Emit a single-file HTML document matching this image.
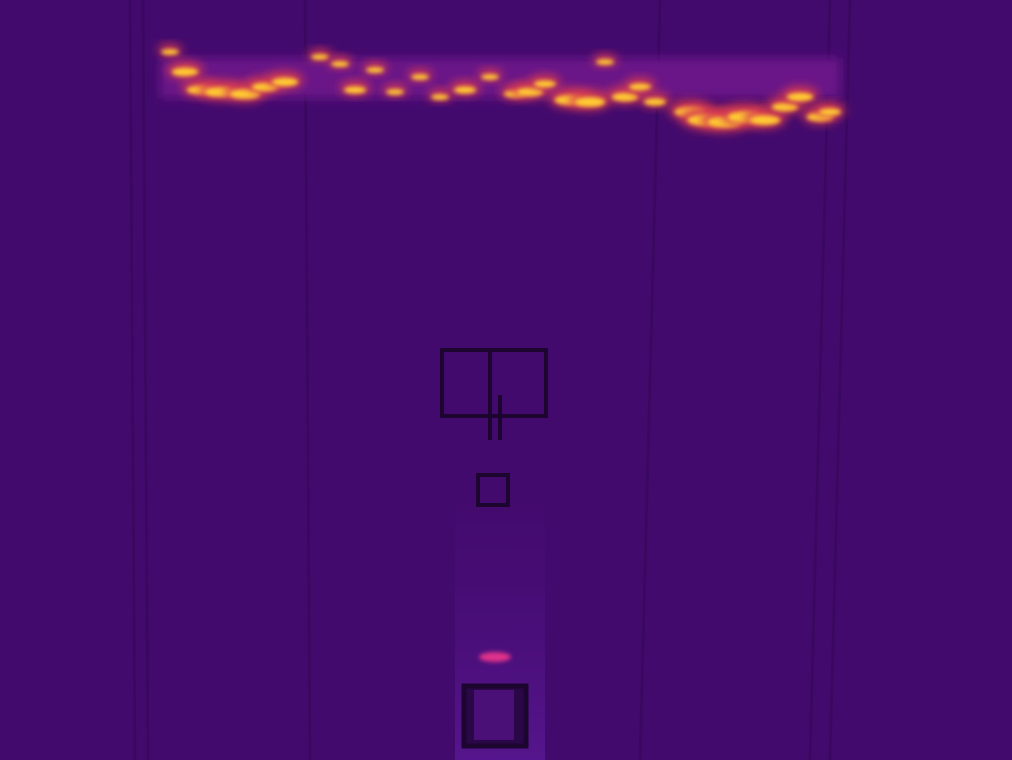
<!DOCTYPE html>
<html><head><meta charset="utf-8"><title>Thermal view</title>
<style>
html,body{margin:0;padding:0;background:#430a6e;}
svg{display:block;}
</style></head>
<body>
<svg id="scene" width="1012" height="760" viewBox="0 0 1012 760" xmlns="http://www.w3.org/2000/svg">
<defs>
<filter id="b6" x="-50%" y="-50%" width="200%" height="200%"><feGaussianBlur stdDeviation="5"/></filter>
<filter id="b3" x="-50%" y="-50%" width="200%" height="200%"><feGaussianBlur stdDeviation="2"/></filter>
<linearGradient id="glow" x1="0" y1="0" x2="0" y2="1">
<stop offset="0" stop-color="#4c1080" stop-opacity="0"/>
<stop offset="1" stop-color="#5a1894" stop-opacity="0.8"/>
</linearGradient>
</defs>
<rect x="0" y="0" width="1012" height="760" fill="#430a6d"/>
<rect x="455" y="490" width="90" height="270" fill="url(#glow)"/>
<g id="seams" stroke="#38085c" stroke-width="3" opacity="0.7"></g>
<g id="hotband"></g>
<g stroke="#1c0630" stroke-width="4" fill="none">
<rect x="442" y="350" width="104" height="66"/>
<line x1="490" y1="350" x2="490" y2="440"/>
<line x1="500" y1="395" x2="500" y2="440"/>
<rect x="478" y="475" width="30" height="30"/>
<rect x="464" y="686" width="62" height="60" stroke-width="5" fill="#2a0848"/>
</g>
<rect x="474" y="690" width="40" height="50" fill="#4a1078"/>
<ellipse cx="495" cy="657" rx="16" ry="5" fill="#e0308a" filter="url(#b3)"/>
</svg>
<script>
const seamX = [130, 143, 305, 660, 850, 830];
const blobX = [170,185,200,220,245,265,285,320,340,355,375,395,420,440,465,490,515,530,545,570,590,605,625,640,655,690,705,725,745,765,785,800,820,830];
const blobY = [50,70,88,90,92,85,80,55,62,88,68,90,75,95,88,75,92,90,82,98,100,60,95,85,100,110,118,120,115,118,105,95,115,110];
const blobR = [8,12,12,14,14,12,12,8,8,10,8,8,8,8,10,8,10,12,10,14,14,8,12,10,10,14,16,16,16,14,12,12,12,10];
const ns="http://www.w3.org/2000/svg";
const seams=document.getElementById('seams');
seamX.forEach(function(x){
  const l=document.createElementNS(ns,'line');
  l.setAttribute('x1',x);l.setAttribute('x2',x+(x>600?-20:5));
  l.setAttribute('y1',0);l.setAttribute('y2',760);
  
  
  seams.appendChild(l);
});
const hb=document.getElementById('hotband');
const base=document.createElementNS(ns,'rect');
base.setAttribute('x',160);base.setAttribute('y',58);base.setAttribute('width',680);base.setAttribute('height',40);
base.setAttribute('fill','#6a1488');base.setAttribute('filter','url(#b6)');


hb.appendChild(base);
blobX.forEach(function(x,i){
  const e=document.createElementNS(ns,'ellipse');
  e.setAttribute('cx',x);e.setAttribute('cy',blobY[i]);
  e.setAttribute('rx',blobR[i]*1.5);e.setAttribute('ry',blobR[i]*0.7);
  e.setAttribute('fill','#d83a50');e.setAttribute('filter','url(#b6)');
  
  
  hb.appendChild(e);
  const c=document.createElementNS(ns,'ellipse');
  c.setAttribute('cx',x);c.setAttribute('cy',blobY[i]+2);
  c.setAttribute('rx',blobR[i]*1.1);c.setAttribute('ry',blobR[i]*0.35);
  c.setAttribute('fill','#ffcc30');c.setAttribute('filter','url(#b3)');
  
  
  hb.appendChild(c);
});
</script>
</body></html>
